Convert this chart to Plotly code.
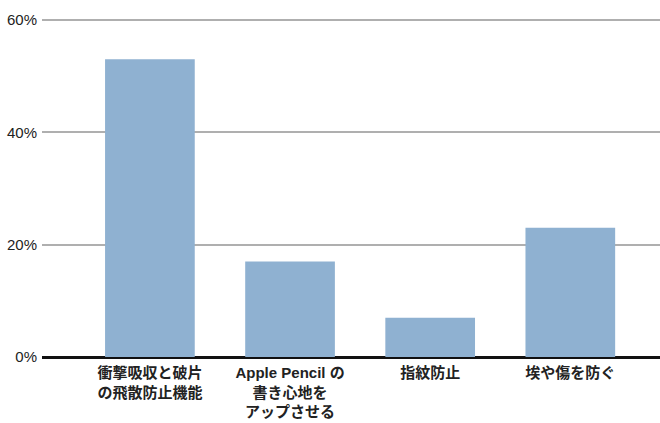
import plotly.graph_objects as go

# Survey: which screen-protector features matter
categories = [
    "衝撃吸収と破片<br>の飛散防止機能",
    "Apple Pencil の<br>書き心地を<br>アップさせる",
    "指紋防止",
    "埃や傷を防ぐ",
]
shares = [53, 17, 7, 23]
y_ticks = [0, 20, 40, 60]
y_tick_labels = ["0%", "20%", "40%", "60%"]

BAR_COLOR = "#8FB1D1"
JP_FONT = "Liberation Sans, Noto Sans CJK JP, Arial, sans-serif"

fig = go.Figure(
    go.Bar(
        x=list(range(len(categories))),
        y=shares,
        marker=dict(color=BAR_COLOR, line=dict(width=0)),
        width=0.64,
        hoverinfo="skip",
    )
)

fig.update_layout(
    width=660,
    height=423,
    margin=dict(l=42, r=0, t=18, b=66),
    paper_bgcolor="white",
    plot_bgcolor="white",
    showlegend=False,
)

fig.update_xaxes(
    range=[-0.77, 3.64],
    tickmode="array",
    tickvals=list(range(len(categories))),
    ticktext=categories,
    tickfont=dict(family=JP_FONT, size=15, color="#222222", weight="bold"),
    showgrid=False,
    showline=False,
    zeroline=False,
    ticks="",
    tickangle=0,
    ticklabelstandoff=5,
)

fig.update_yaxes(
    range=[0, 60.35],
    tickmode="array",
    tickvals=y_ticks,
    ticktext=y_tick_labels,
    tickfont=dict(family="Liberation Sans, Arial, sans-serif", size=15, color="#222222"),
    showgrid=True,
    gridcolor="#AFAFAF",
    gridwidth=1.5,
    zeroline=True,
    zerolinecolor="#111111",
    zerolinewidth=3,
    showline=False,
    ticks="",
    ticklabelstandoff=4,
)

fig.write_html("out.html")
